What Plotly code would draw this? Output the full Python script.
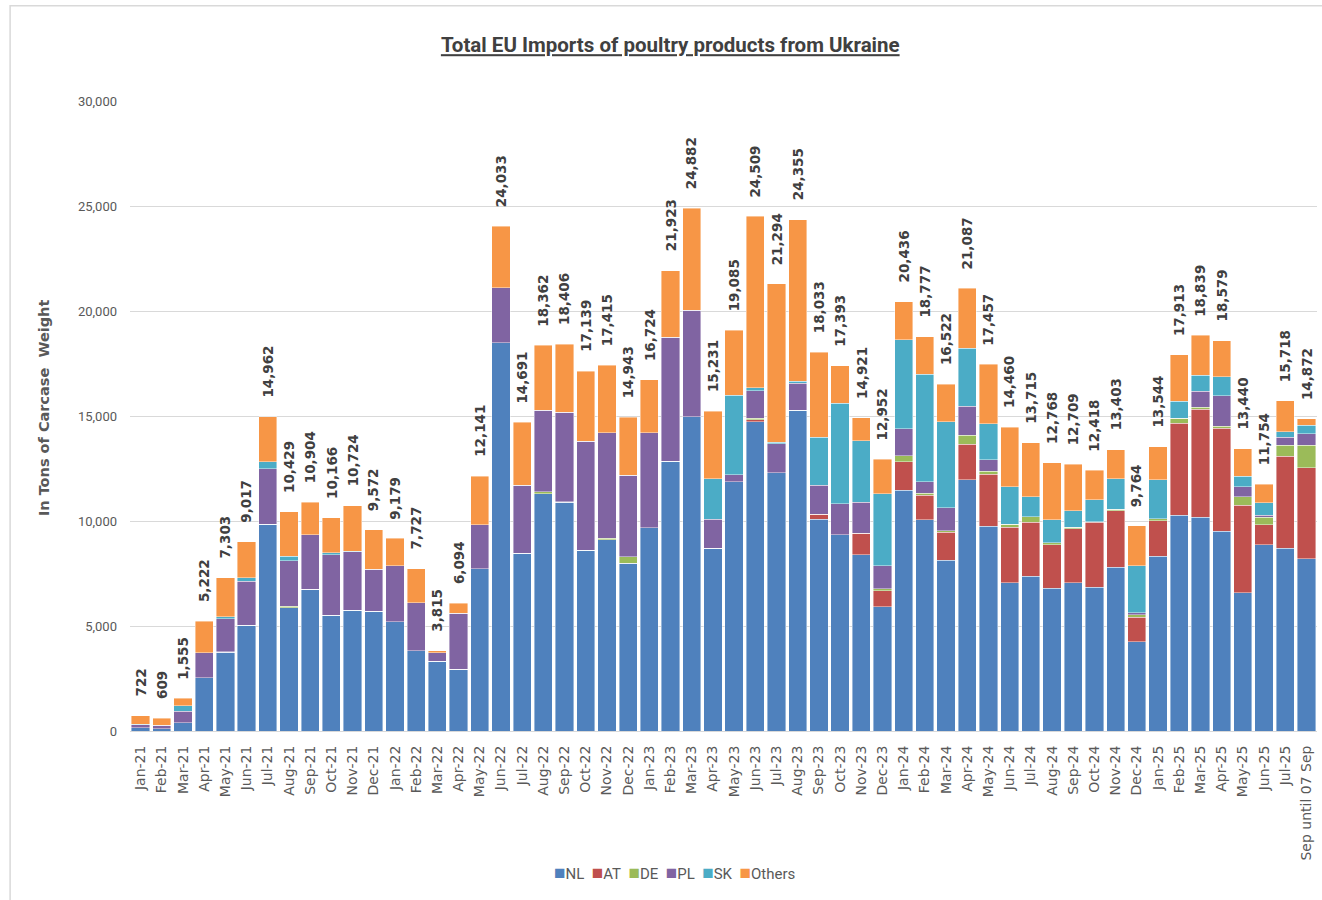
import plotly.graph_objects as go

months = ["Jan-21","Feb-21","Mar-21","Apr-21","May-21","Jun-21","Jul-21","Aug-21","Sep-21","Oct-21","Nov-21","Dec-21",
          "Jan-22","Feb-22","Mar-22","Apr-22","May-22","Jun-22","Jul-22","Aug-22","Sep-22","Oct-22","Nov-22","Dec-22",
          "Jan-23","Feb-23","Mar-23","Apr-23","May-23","Jun-23","Jul-23","Aug-23","Sep-23","Oct-23","Nov-23","Dec-23",
          "Jan-24","Feb-24","Mar-24","Apr-24","May-24","Jun-24","Jul-24","Aug-24","Sep-24","Oct-24","Nov-24","Dec-24",
          "Jan-25","Feb-25","Mar-25","Apr-25","May-25","Jun-25","Jul-25","Sep until 07 Sep"]

nl = [150,100,400,2540,3750,5030,9840,5870,6750,5520,5760,5710,
      5210,3830,3330,2940,7720,18500,8460,11300,10890,8610,9110,8000,
      9690,12850,14960,8700,11870,14720,12300,15280,10090,9350,8390,5920,
      11460,10070,8140,11960,9750,7070,7370,6790,7070,6850,7800,4250,
      8310,10270,10180,9510,6590,8870,8710,8200]
at = [0,0,0,0,0,0,0,0,0,0,0,0,
      0,0,0,0,0,0,0,0,0,0,0,0,
      0,0,0,0,0,90,0,0,220,0,1030,770,
      1370,1150,1320,1690,2470,2630,2580,2090,2550,3090,2690,1160,
      1710,4380,5140,4900,4160,950,4380,4330]
de = [0,0,0,0,20,0,0,80,0,0,0,0,
      0,0,0,0,0,0,0,90,30,0,80,300,
      0,0,0,0,0,80,0,0,0,0,0,90,
      280,90,80,430,150,140,250,80,80,30,80,120,
      80,240,90,110,400,370,510,1070]
pl = [150,180,550,1190,1580,2110,2650,2160,2600,2880,2780,2000,
      2660,2270,400,2660,2110,2610,3240,3890,4270,5190,5010,3890,
      4510,5910,5080,1390,330,1310,1370,1290,1390,1480,1470,1080,
      1280,570,1100,1380,540,0,0,0,0,0,0,90,
      0,0,770,1440,470,80,400,560]
sk = [30,0,250,0,90,160,320,220,0,80,30,0,
      0,0,0,0,0,0,0,0,0,0,0,0,
      0,0,0,1930,3780,150,90,80,2280,4780,2930,3440,
      4230,5110,4080,2760,1730,1790,950,1110,790,1050,1450,2260,
      1870,810,760,900,510,590,240,410]
others = [392,329,355,1492,1863,1717,2152,2099,1554,1686,2154,1862,
          1309,1627,85,494,2311,2923,2991,3082,3216,3339,3215,2753,
          2524,3163,4842,3211,3105,8159,7534,7705,4053,1783,1101,1652,
          1816,1787,1802,2867,2817,2830,2565,2698,2219,1398,1383,1884,
          1574,2213,1899,1719,1310,894,1478,302]
totals = [722,609,1555,5222,7303,9017,14962,10429,10904,10166,10724,9572,
          9179,7727,3815,6094,12141,24033,14691,18362,18406,17139,17415,14943,
          16724,21923,24882,15231,19085,24509,21294,24355,18033,17393,14921,12952,
          20436,18777,16522,21087,17457,14460,13715,12768,12709,12418,13403,9764,
          13544,17913,18839,18579,13440,11754,15718,14872]

series_names = ["NL", "AT", "DE", "PL", "SK", "Others"]
series_values = [nl, at, de, pl, sk, others]
series_colors = ["#4F81BD", "#C0504D", "#9BBB59", "#8064A2", "#4BACC6", "#F79646"]

y_ticks = [0, 5000, 10000, 15000, 20000, 25000, 30000]

NARROW = "Liberation Sans Narrow, Arial Narrow, Roboto, sans-serif"
VERD = "DejaVu Sans, Verdana, sans-serif"

fig = go.Figure()
for name, vals, col in zip(series_names, series_values, series_colors):
    fig.add_trace(go.Bar(
        x=months, y=vals, name=name,
        marker=dict(color=col, line=dict(color="rgba(255,255,255,0.7)", width=0.6)),
        showlegend=False,
    ))

annotations = []
for m, t in zip(months, totals):
    annotations.append(dict(
        x=m, y=t, xref="x", yref="y", text=f"{t:,}", showarrow=False,
        textangle=-90, xanchor="center", yanchor="bottom", yshift=17,
        font=dict(family=VERD, size=13.5, color="#404040", weight="bold"),
    ))

# y axis title
annotations.append(dict(
    x=-0.0725, y=0.514, xref="paper", yref="paper", text="<b>In Tons of Carcase  Weight</b>",
    textangle=-90, showarrow=False, xanchor="center", yanchor="middle",
    font=dict(family=VERD, size=14.5, color="#595959"),
))

# legend built from series names/colors
legend_text = "&nbsp;&nbsp;".join(
    f'<span style="color:{c};font-size:19px">■</span>{n}' for n, c in zip(series_names, series_colors)
)
annotations.append(dict(
    x=0.459, y=-0.224, xref="paper", yref="paper", text=legend_text,
    showarrow=False, xanchor="center", yanchor="middle",
    font=dict(family=NARROW, size=15, color="#595959"),
))

fig.update_layout(
    width=1322, height=900,
    margin=dict(l=130, r=5, t=101, b=169),
    paper_bgcolor="white", plot_bgcolor="white",
    barmode="stack", bargap=0.14,
    title=dict(
        text="<b><u>Total EU Imports of poultry products from Ukraine</u></b>",
        x=0.507, xanchor="center", y=0.95, yanchor="middle",
        font=dict(family=NARROW, size=20.5, color="#404040"),
    ),
    xaxis=dict(
        type="category", categoryorder="array", categoryarray=months,
        tickangle=-90, tickfont=dict(family=VERD, size=14, color="#595959"),
        showgrid=False, showline=True, linecolor="#D9D9D9", linewidth=1,
        ticks="", ticklabelstandoff=8,
    ),
    yaxis=dict(
        range=[0, 30000], tickvals=y_ticks, tickformat=",",
        tickfont=dict(family=NARROW, size=13, color="#595959"),
        showgrid=True, gridcolor="#D9D9D9", gridwidth=1,
        zeroline=False, showline=False, ticks="", ticklabelstandoff=12,
    ),
    annotations=annotations,
    shapes=[dict(type="rect", xref="paper", yref="paper",
                 x0=-0.101, x1=1.03, y0=-0.30, y1=1.151,
                 line=dict(color="#D9D9D9", width=1.5), layer="below")],
)

fig.write_html(
    "out.html",
    config={"displayModeBar": False},
    post_script="document.body.style.margin='0';document.body.style.overflow='hidden';",
)
